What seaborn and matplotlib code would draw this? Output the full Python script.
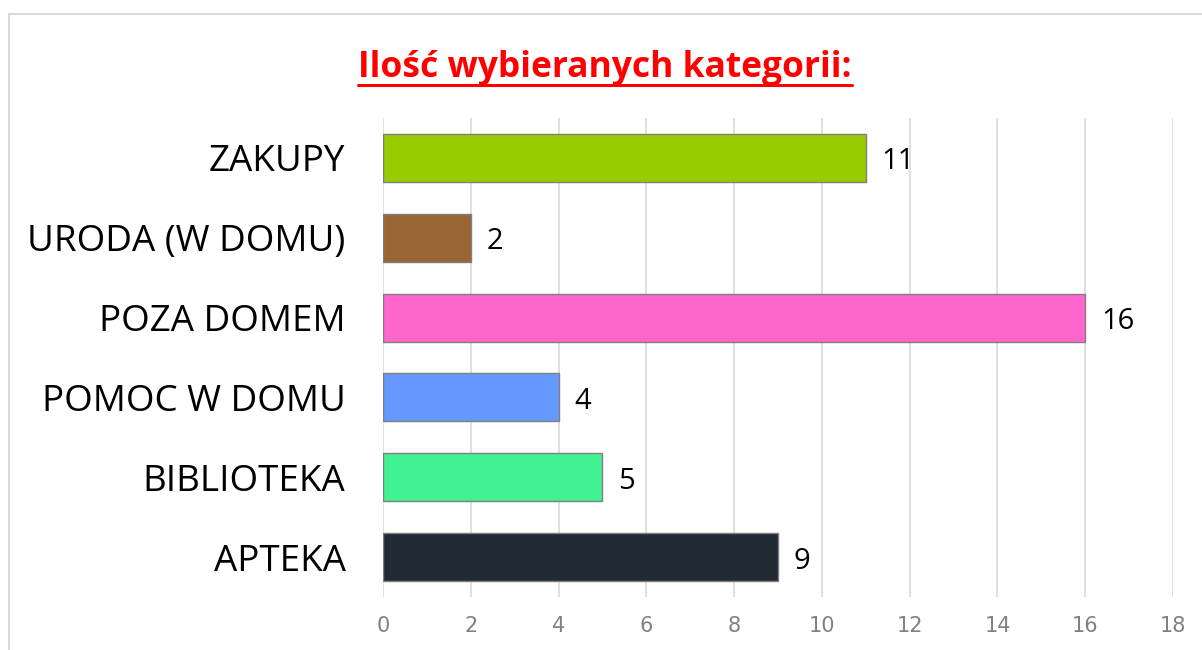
import matplotlib
matplotlib.use("Agg")
import matplotlib.pyplot as plt
import seaborn as sns
import pandas as pd
from matplotlib.patches import Rectangle
from matplotlib.lines import Line2D

categories = ["ZAKUPY", "URODA (W DOMU)", "POZA DOMEM", "POMOC W DOMU", "BIBLIOTEKA", "APTEKA"]
values = [11, 2, 16, 4, 5, 9]
colors = ["#99CC00", "#996633", "#FF66CC", "#6699FF", "#40F291", "#222A35"]
xticks = [0, 2, 4, 6, 8, 10, 12, 14, 16, 18]
title = "Ilość wybieranych kategorii:"

sns.set_theme(style="white")
plt.rcParams['font.family'] = ['Open Sans', 'DejaVu Sans']

df = pd.DataFrame({"cat": categories, "val": values})

fig = plt.figure(figsize=(12.02, 6.5), dpi=100)
ax = fig.add_axes([383/1202, 1-597/650, (1173-383)/1202, (597-118)/650])

sns.barplot(data=df, y="cat", x="val", hue="cat", palette=colors, order=categories,
            hue_order=categories, orient="h", width=0.6, edgecolor="#7F7F7F",
            linewidth=1.0, legend=False, ax=ax, zorder=3, saturation=1)

ax.set_xlim(0, 18)
ax.set_ylim(len(categories) - 0.5, -0.5)
ax.set_xticks(xticks)
ax.set_xticklabels([str(t) for t in xticks],
                   fontdict={"family": ["Liberation Sans Narrow", "DejaVu Sans"], "size": 15},
                   color="#808080")
ax.tick_params(axis="x", length=0, pad=14)
ax.tick_params(axis="y", length=0, pad=27, labelsize=26.5, labelcolor="black")
ax.set_xlabel("")
ax.set_ylabel("")
ax.grid(axis="x", color="#D9D9D9", linewidth=1.2, zorder=0)
ax.set_axisbelow(True)
for s in ax.spines.values():
    s.set_visible(False)

for i, v in enumerate(values):
    ax.text(v + 0.36, i + 0.05, str(v), va="center", ha="left", fontsize=21, color="black")

# outer frame
fig.add_artist(Rectangle((9/1202, -0.05), 1.1, 1 - 14/650 + 0.05, transform=fig.transFigure,
                         fill=False, edgecolor="#D9D9D9", linewidth=1.5))

t = fig.text(0.5 + 4/1202, 1 - 68/650, title, ha="center", va="center", fontsize=25.5,
             fontweight="bold", color="#FF0000")
fig.canvas.draw()
bb = t.get_window_extent(renderer=fig.canvas.get_renderer())
inv = fig.transFigure.inverted()
(x0, y0), (x1, y1) = inv.transform([(bb.x0, bb.y0), (bb.x1, bb.y1)])
fig.add_artist(Line2D([x0, x1], [y0 + 0.002, y0 + 0.002], transform=fig.transFigure,
                      color="#FF0000", linewidth=2.2))

fig.savefig("out.png", dpi=100)
